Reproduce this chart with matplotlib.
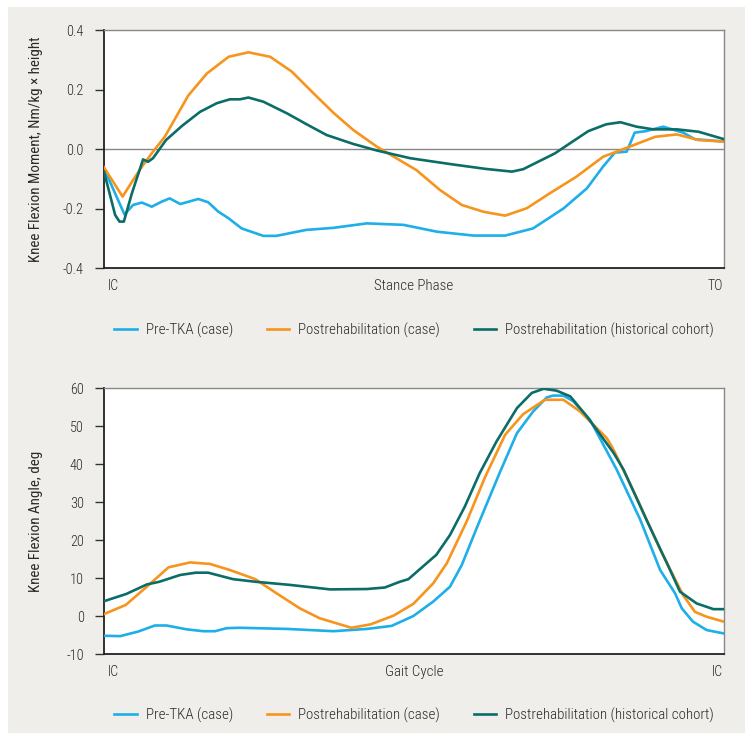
import matplotlib
matplotlib.use("Agg")
import matplotlib.pyplot as plt
from matplotlib.patches import Rectangle
from matplotlib import font_manager

# ---------------- data ----------------
# Top panel: knee flexion moment over stance phase (0-100 %)
mom_pre_x = [0, 3.3, 4.7, 6.1, 7.7, 9.3, 10.6, 12.3, 15.2, 16.8, 18.4, 20.1, 22.2, 25.7, 27.8,
             32.6, 37.0, 42.4, 48.3, 53.7, 59.6, 64.7, 69.2, 74.1, 77.9, 80.5, 82.4, 84.3,
             85.6, 87.4, 90.2, 93.4, 95.3, 100]
mom_pre_y = [-0.065, -0.220, -0.188, -0.180, -0.194, -0.177, -0.166, -0.185, -0.168, -0.179,
             -0.210, -0.233, -0.267, -0.292, -0.292, -0.272, -0.265, -0.250, -0.255, -0.278,
             -0.291, -0.291, -0.267, -0.200, -0.132, -0.059, -0.012, -0.009, 0.055, 0.060,
             0.075, 0.055, 0.033, 0.025]

mom_post_x = [0, 3.0, 4.7, 6.3, 7.9, 9.8, 13.6, 16.6, 20.1, 23.3, 26.8, 30.3, 33.8, 37.1,
              40.2, 44.0, 50.4, 54.2, 57.7, 61.2, 64.7, 68.2, 71.9, 76.2, 80.5, 83.8, 88.9,
              92.4, 95.9, 100]
mom_post_y = [-0.062, -0.160, -0.104, -0.054, -0.009, 0.041, 0.180, 0.254, 0.310, 0.325,
              0.310, 0.260, 0.187, 0.120, 0.064, 0.008, -0.071, -0.138, -0.188, -0.211,
              -0.224, -0.199, -0.149, -0.093, -0.026, 0.000, 0.041, 0.049, 0.030, 0.025]

mom_hist_x = [0, 1.8, 2.5, 3.2, 4.5, 6.3, 7.1, 7.9, 10.0, 12.6, 15.5, 18.2, 20.3, 21.9,
              23.3, 25.7, 29.5, 32.6, 35.9, 40.2, 44.0, 49.4, 56.3, 61.6, 65.8, 67.6, 72.7,
              78.1, 81.0, 83.3, 85.9, 88.6, 92.4, 95.9, 100]
mom_hist_y = [-0.076, -0.222, -0.244, -0.244, -0.149, -0.035, -0.043, -0.031, 0.030,
              0.078, 0.125, 0.154, 0.167, 0.167, 0.173, 0.159, 0.120, 0.084, 0.047, 0.017,
              -0.005, -0.031, -0.052, -0.067, -0.076, -0.068, -0.015, 0.060, 0.083, 0.090,
              0.075, 0.066, 0.066, 0.058, 0.033]

# Bottom panel: knee flexion angle over gait cycle (0-100 %)
ang_pre_x = [0, 2.6, 5.5, 8.2, 10.1, 13.3, 16.0, 17.9, 19.8, 21.9, 29.5, 37.0, 42.4, 46.4,
             49.9, 53.1, 55.8, 57.7, 60.1, 63.9, 66.6, 69.2, 71.4, 72.4, 74.1, 75.7, 78.4,
             82.7, 86.5, 89.7, 92.1, 93.2, 95.0, 97.2, 100]
ang_pre_y = [-5.2, -5.3, -4.1, -2.5, -2.5, -3.5, -4.0, -4.0, -3.2, -3.1, -3.4, -4.0, -3.4,
             -2.6, 0.0, 3.8, 7.7, 13.4, 23.1, 38.0, 48.1, 53.8, 57.5, 58.0, 58.0, 56.5, 51.6,
             38.5, 25.3, 12.1, 6.0, 2.0, -1.5, -3.7, -4.6]

ang_post_x = [0, 3.5, 6.9, 10.4, 13.9, 17.1, 20.3, 24.4, 27.8, 31.6, 34.8, 39.9, 43.0, 46.7,
              49.9, 53.1, 55.3, 58.5, 61.5, 64.7, 67.6, 71.1, 74.1, 76.8, 81.1, 82.2, 85.9,
              89.7, 93.4, 95.3, 97.2, 100]
ang_post_y = [0.5, 2.9, 7.7, 12.8, 14.1, 13.7, 12.1, 9.7, 6.0, 2.0, -0.6, -3.1, -2.2, 0.1,
              3.2, 8.6, 13.9, 24.9, 36.7, 47.7, 53.1, 56.9, 56.9, 53.8, 46.8, 43.7, 31.2,
              17.5, 5.5, 1.1, -0.2, -1.5]

ang_hist_x = [0, 3.6, 6.9, 8.9, 12.3, 14.8, 16.8, 20.8, 24.5, 29.9, 36.5, 42.4, 45.3, 47.7,
              49.1, 53.6, 55.8, 58.2, 60.6, 63.3, 66.6, 69.0, 70.9, 73.0, 75.2, 77.9, 82.2,
              83.8, 87.5, 90.8, 92.9, 95.6, 98.3, 100]
ang_hist_y = [3.9, 5.8, 8.3, 9.0, 10.8, 11.4, 11.4, 9.7, 9.0, 8.2, 7.0, 7.1, 7.5, 9.0, 9.7,
              16.1, 21.3, 28.8, 37.6, 45.9, 54.7, 58.7, 59.8, 59.3, 57.8, 52.5, 42.9, 38.5,
              25.3, 13.9, 6.4, 3.3, 1.8, 1.8]

series_labels = ["Pre-TKA (case)", "Postrehabilitation (case)",
                 "Postrehabilitation (historical cohort)"]
colors = ["#1eaee8", "#f7941d", "#0b6d67"]

top_yticks = [-0.4, -0.2, 0.0, 0.2, 0.4]
bot_yticks = [-10, 0, 10, 20, 30, 40, 50, 60]

# ---------------- style ----------------
avail = {f.name for f in font_manager.fontManager.ttflist}
fam = "DejaVu Sans"
for cand in ["Roboto Condensed", "Archivo Narrow", "Fira Sans Condensed",
             "IBM Plex Sans Condensed", "Liberation Sans Narrow", "Asap Condensed",
             "DejaVu Sans Condensed"]:
    if cand in avail:
        fam = cand
        break
plt.rcParams["font.family"] = [fam, "DejaVu Sans"]
plt.rcParams["font.weight"] = 300
plt.rcParams["font.size"] = 10.5
TXT = "#2a2a2a"
FS = 10.8

W, H = 754, 741
fig = plt.figure(figsize=(W / 100, H / 100), dpi=100, facecolor="white")
bg = Rectangle((8 / W, 1 - 733 / H), (745 - 8) / W, (733 - 7) / H,
               transform=fig.transFigure, facecolor="#efeeeb", edgecolor="none", zorder=-10)
fig.add_artist(bg)


def make_axes(top, bottom):
    ax = fig.add_axes([104 / W, 1 - bottom / H, (724 - 104) / W, (bottom - top) / H])
    ax.set_facecolor("white")
    for s in ["left", "bottom"]:
        ax.spines[s].set_color("#222222")
        ax.spines[s].set_linewidth(1.3)
    for s in ["top", "right"]:
        ax.spines[s].set_color("#888888")
        ax.spines[s].set_linewidth(1.0)
    ax.set_xlim(0, 100)
    ax.set_xticks([])
    ax.tick_params(axis="y", direction="out", length=6.5, width=1.0, color="#333333",
                   pad=8, labelsize=10.3, labelcolor=TXT)
    return ax, bottom - top


def xlabels(ax, right_text, mid_text):
    ax.annotate("IC", xy=(0, 0), xycoords="axes fraction", xytext=(2.5, -13),
                textcoords="offset points", ha="left", va="center", fontsize=10, color=TXT)
    ax.annotate(mid_text, xy=(0.5, 0), xycoords="axes fraction", xytext=(0, -13),
                textcoords="offset points", ha="center", va="center", fontsize=FS, color=TXT)
    ax.annotate(right_text, xy=(1, 0), xycoords="axes fraction", xytext=(-1, -13),
                textcoords="offset points", ha="right", va="center", fontsize=10, color=TXT)


def legend(ax, h, dy):
    ax.legend(loc="center", bbox_to_anchor=(0.5, -dy / h), ncol=3, frameon=False,
              fontsize=FS, handlelength=1.5, handletextpad=0.6, columnspacing=2.25,
              labelcolor=TXT)


# Top panel
ax1, h1 = make_axes(30, 268)
ax1.set_ylim(-0.4, 0.4)
ax1.set_yticks(top_yticks)
ax1.set_yticklabels([f"{v:.1f}" for v in top_yticks])
ax1.axhline(0, color="#888888", lw=1.0, zorder=1)
for xs, ys, c, lab in [(mom_pre_x, mom_pre_y, colors[0], series_labels[0]),
                       (mom_post_x, mom_post_y, colors[1], series_labels[1]),
                       (mom_hist_x, mom_hist_y, colors[2], series_labels[2])]:
    ax1.plot(xs, ys, color=c, lw=1.9, label=lab, zorder=3, solid_joinstyle="round")
ax1.set_ylabel("Knee Flexion Moment, Nm/kg × height", fontsize=FS, color=TXT)
ax1.yaxis.set_label_coords((43 - 104) / 620, 0.5)
xlabels(ax1, "TO", "Stance Phase")
legend(ax1, h1, 62)

# Bottom panel
ax2, h2 = make_axes(388, 654)
ax2.set_ylim(-10, 60)
ax2.set_yticks(bot_yticks)
ax2.set_yticklabels([str(v) for v in bot_yticks])
for xs, ys, c, lab in [(ang_pre_x, ang_pre_y, colors[0], series_labels[0]),
                       (ang_post_x, ang_post_y, colors[1], series_labels[1]),
                       (ang_hist_x, ang_hist_y, colors[2], series_labels[2])]:
    ax2.plot(xs, ys, color=c, lw=1.9, label=lab, zorder=3, solid_joinstyle="round")
ax2.set_ylabel("Knee Flexion Angle, deg", fontsize=FS, color=TXT)
ax2.yaxis.set_label_coords((43 - 104) / 620, 0.5)
xlabels(ax2, "IC", "Gait Cycle")
legend(ax2, h2, 61)

fig.savefig("out.png", dpi=100, facecolor="white")
